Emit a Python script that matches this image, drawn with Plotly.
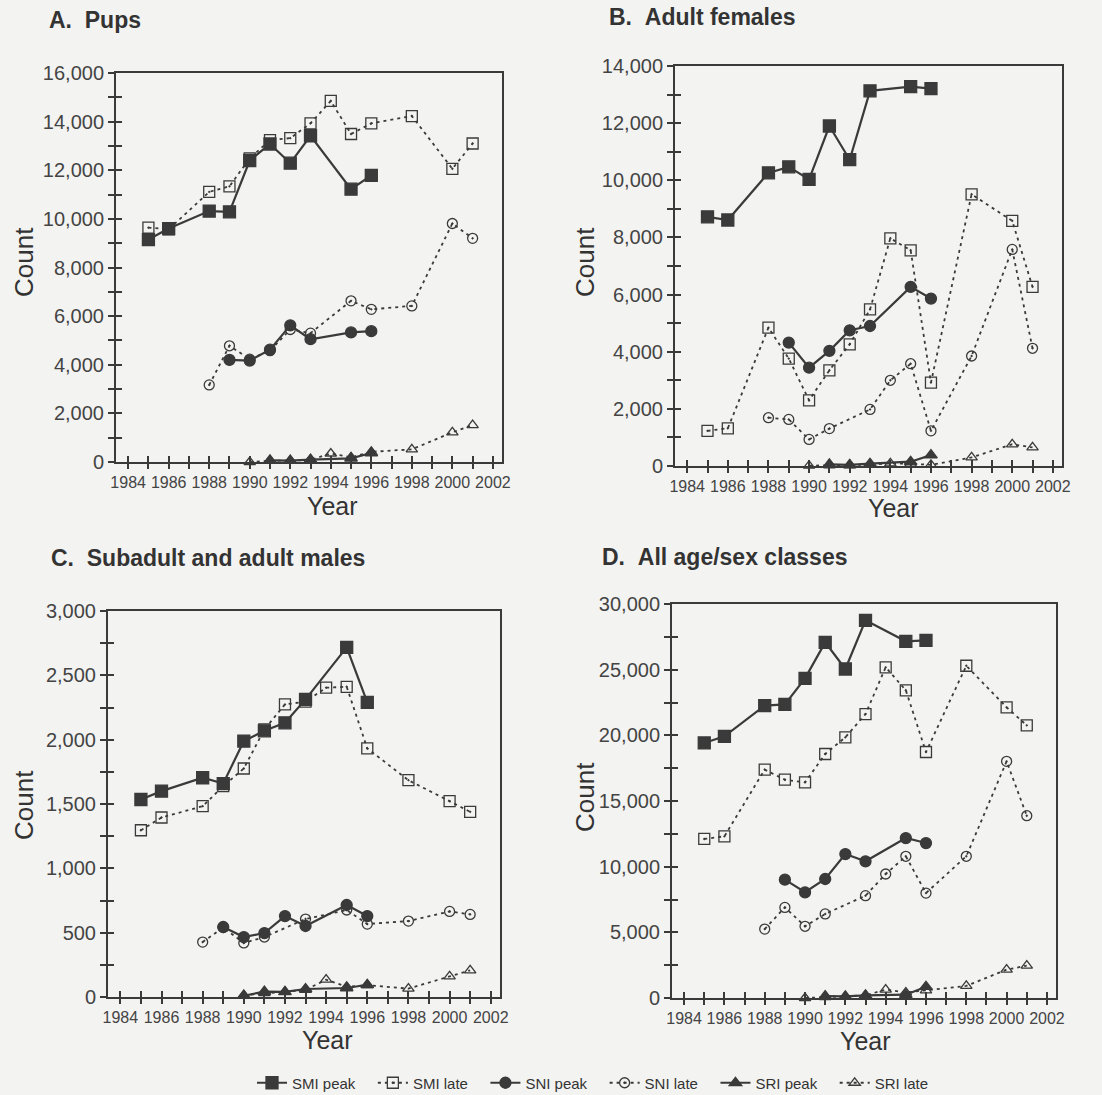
import plotly.graph_objects as go

# ---------------- data ----------------
YEARS_SMI_PEAK = [1985, 1986, 1988, 1989, 1990, 1991, 1992, 1993, 1995, 1996]
YEARS_SMI_LATE = [1985, 1986, 1988, 1989, 1990, 1991, 1992, 1993, 1994, 1995, 1996, 1998, 2000, 2001]
YEARS_SNI_PEAK = [1989, 1990, 1991, 1992, 1993, 1995, 1996]

# A. Pups
A_SMI_PEAK = [9150, 9600, 10320, 10290, 12400, 13080, 12290, 13420, 11220, 11790]
A_SMI_LATE = [9640, 9570, 11110, 11340, 12490, 13240, 13320, 13930, 14850, 13490, 13930, 14230, 12060, 13100]
A_SNI_PEAK = [4200, 4170, 4620, 5620, 5050, 5330, 5380]
A_SNI_LATE_YEARS = [1988, 1989, 1990, 1991, 1992, 1993, 1995, 1996, 1998, 2000, 2001]
A_SNI_LATE = [3170, 4780, 4230, 4580, 5450, 5300, 6630, 6280, 6420, 9810, 9200]
A_SRI_PEAK_YEARS = [1991, 1992, 1993, 1995, 1996]
A_SRI_PEAK = [70, 60, 100, 150, 370]
A_SRI_LATE_YEARS = [1990, 1991, 1992, 1993, 1994, 1995, 1996, 1998, 2000, 2001]
A_SRI_LATE = [0, 50, 60, 90, 350, 190, 420, 520, 1220, 1520]

# B. Adult females
B_SMI_PEAK = [8720, 8610, 10260, 10470, 10030, 11900, 10720, 13130, 13280, 13210]
B_SMI_LATE = [1230, 1320, 4840, 3760, 2300, 3350, 4260, 5480, 7970, 7550, 2920, 9510, 8580, 6270]
B_SNI_PEAK = [4320, 3440, 4030, 4750, 4900, 6270, 5860]
B_SNI_LATE_YEARS = [1988, 1989, 1990, 1991, 1993, 1994, 1995, 1996, 1998, 2000, 2001]
B_SNI_LATE = [1690, 1630, 930, 1310, 1980, 3000, 3580, 1230, 3850, 7580, 4120]
B_SRI_PEAK_YEARS = [1991, 1992, 1993, 1995, 1996]
B_SRI_PEAK = [60, 40, 80, 150, 380]
B_SRI_LATE_YEARS = [1990, 1991, 1992, 1993, 1994, 1995, 1996, 1998, 2000, 2001]
B_SRI_LATE = [10, 20, 20, 50, 90, 80, 40, 300, 760, 650]

# C. Subadult and adult males
C_SMI_PEAK = [1535, 1600, 1704, 1659, 1989, 2069, 2131, 2313, 2717, 2290]
C_SMI_LATE = [1296, 1395, 1483, 1639, 1776, 2080, 2274, 2295, 2404, 2411, 1932, 1685, 1522, 1439]
C_SNI_PEAK = [544, 466, 497, 629, 552, 715, 629]
C_SNI_LATE_YEARS = [1988, 1989, 1990, 1991, 1993, 1995, 1996, 1998, 2000, 2001]
C_SNI_LATE = [427, 540, 420, 466, 606, 676, 567, 590, 665, 642]
C_SRI_PEAK_YEARS = [1990, 1991, 1992, 1993, 1995, 1996]
C_SRI_PEAK = [10, 42, 40, 62, 70, 95]
C_SRI_LATE_YEARS = [1990, 1991, 1992, 1993, 1994, 1995, 1996, 1998, 2000, 2001]
C_SRI_LATE = [15, 30, 40, 55, 135, 80, 92, 65, 160, 207]

# D. All age/sex classes
D_SMI_PEAK = [19420, 19920, 22260, 22360, 24340, 27080, 25050, 28760, 27160, 27230]
D_SMI_LATE = [12110, 12310, 17390, 16620, 16420, 18580, 19850, 21620, 25180, 23430, 18730, 25300, 22130, 20760]
D_SNI_PEAK = [9010, 8050, 9060, 10960, 10410, 12180, 11800]
D_SNI_LATE_YEARS = [1988, 1989, 1990, 1991, 1993, 1994, 1995, 1996, 1998, 2000, 2001]
D_SNI_LATE = [5250, 6900, 5460, 6400, 7790, 9440, 10790, 7990, 10790, 18020, 13880]
D_SRI_PEAK_YEARS = [1991, 1992, 1993, 1995, 1996]
D_SRI_PEAK = [150, 120, 200, 250, 860]
D_SRI_LATE_YEARS = [1990, 1991, 1992, 1993, 1994, 1995, 1996, 1998, 2000, 2001]
D_SRI_LATE = [0, 60, 100, 200, 640, 420, 580, 920, 2160, 2460]

PANEL_TITLES = ["A.\u00a0\u00a0Pups", "B.\u00a0\u00a0Adult females",
                "C.\u00a0\u00a0Subadult and adult males", "D.\u00a0\u00a0All age/sex classes"]
Y_MAX = [16000, 14000, 3000, 30000]
Y_MINOR = [1000, 1000, 250, 2500]
Y_MAJOR = [2000, 2000, 500, 5000]
X_TICK_YEARS = list(range(1984, 2003))
X_LABEL_YEARS = list(range(1984, 2003, 2))
SERIES_NAMES = ["SMI peak", "SMI late", "SNI peak", "SNI late", "SRI peak", "SRI late"]

# ---------------- style ----------------
W, H = 1102, 1095
INK = "#3a3a3a"
BG = "#f3f3f2"
FONT = "Liberation Sans, Arial, sans-serif"

# plot boxes in pixels: left, right, top, bottom
BOXES = [(116, 502, 73, 462), (675, 1062, 66, 466), (108, 500, 611, 997), (672, 1056, 604, 998)]
TITLE_POS = [(47, 20), (607, 17), (49, 558), (600, 557)]
COUNT_POS = [(24, 262), (585, 262), (24, 805), (585, 797)]
YEAR_POS = [(332, 506), (893, 508), (327, 1040), (865, 1041)]
X_RANGE = [1983.4, 2002.45]

STYLES = [
    dict(symbol="square", size=12, dash="solid", width=2.2),
    dict(symbol="square-open-dot", size=11, dash="3px,4px", width=1.8),
    dict(symbol="circle", size=11, dash="solid", width=2.2),
    dict(symbol="circle-open-dot", size=10, dash="3px,4px", width=1.8),
    dict(symbol="triangle-up", size=11, dash="solid", width=2.2),
    dict(symbol="triangle-up-open", size=10, dash="3px,4px", width=1.8),
]

panels = [
    [(YEARS_SMI_PEAK, A_SMI_PEAK), (YEARS_SMI_LATE, A_SMI_LATE), (YEARS_SNI_PEAK, A_SNI_PEAK),
     (A_SNI_LATE_YEARS, A_SNI_LATE), (A_SRI_PEAK_YEARS, A_SRI_PEAK), (A_SRI_LATE_YEARS, A_SRI_LATE)],
    [(YEARS_SMI_PEAK, B_SMI_PEAK), (YEARS_SMI_LATE, B_SMI_LATE), (YEARS_SNI_PEAK, B_SNI_PEAK),
     (B_SNI_LATE_YEARS, B_SNI_LATE), (B_SRI_PEAK_YEARS, B_SRI_PEAK), (B_SRI_LATE_YEARS, B_SRI_LATE)],
    [(YEARS_SMI_PEAK, C_SMI_PEAK), (YEARS_SMI_LATE, C_SMI_LATE), (YEARS_SNI_PEAK, C_SNI_PEAK),
     (C_SNI_LATE_YEARS, C_SNI_LATE), (C_SRI_PEAK_YEARS, C_SRI_PEAK), (C_SRI_LATE_YEARS, C_SRI_LATE)],
    [(YEARS_SMI_PEAK, D_SMI_PEAK), (YEARS_SMI_LATE, D_SMI_LATE), (YEARS_SNI_PEAK, D_SNI_PEAK),
     (D_SNI_LATE_YEARS, D_SNI_LATE), (D_SRI_PEAK_YEARS, D_SRI_PEAK), (D_SRI_LATE_YEARS, D_SRI_LATE)],
]

fig = go.Figure()
layout = dict(
    template="none",
    width=W, height=H, autosize=False,
    margin=dict(l=0, r=0, t=0, b=0, pad=0, autoexpand=False),
    paper_bgcolor=BG, plot_bgcolor=BG,
    font=dict(family=FONT, color=INK),
    showlegend=True,
    legend=dict(orientation="h", x=599 / W, xanchor="center", y=1 - 1083 / H, yanchor="middle",
                font=dict(size=15, color="#333"), itemwidth=30, bgcolor="rgba(0,0,0,0)",
                traceorder="normal", itemclick=False, borderwidth=0),
)
annotations = []

for p, series in enumerate(panels):
    i = p + 1
    sx = "" if i == 1 else str(i)
    ox = str(i + 4)
    l, r, t, b = BOXES[p]
    xdom = [l / W, r / W]
    ydom = [1 - b / H, 1 - t / H]
    yticks = list(range(0, Y_MAX[p] + 1, Y_MINOR[p]))
    ytext = [f"{v:,}" if v % Y_MAJOR[p] == 0 else "" for v in yticks]
    xtext = [str(v) if v in X_LABEL_YEARS else "" for v in X_TICK_YEARS]

    layout["xaxis" + sx] = dict(domain=xdom, anchor="y" + sx, range=X_RANGE, tickmode="array",
                                tickvals=X_TICK_YEARS, ticktext=xtext, ticks="outside", ticklen=5,
                                tickwidth=1.5, tickcolor=INK, showline=True, linewidth=2, linecolor=INK,
                                mirror=True, showgrid=False, zeroline=False, automargin=False,
                                tickfont=dict(size=16, color="#444"))
    layout["yaxis" + sx] = dict(domain=ydom, anchor="x" + sx, range=[0, Y_MAX[p]], tickmode="array",
                                tickvals=yticks, ticktext=ytext, ticks="outside", ticklen=6,
                                tickwidth=1.5, tickcolor=INK, showline=True, linewidth=2, linecolor=INK,
                                mirror=True, showgrid=False, zeroline=False, automargin=False,
                                tickfont=dict(size=20, color="#444"))
    # overlay axes so that ticks cross the axis lines
    layout["xaxis" + ox] = dict(overlaying="x" + sx, anchor="y" + ox, range=X_RANGE, tickmode="array",
                                tickvals=X_TICK_YEARS, ticks="inside", ticklen=6, tickwidth=1.5,
                                tickcolor=INK, showticklabels=False, showline=False, showgrid=False,
                                zeroline=False, automargin=False)
    layout["yaxis" + ox] = dict(overlaying="y" + sx, anchor="x" + ox, range=[0, Y_MAX[p]], tickmode="array",
                                tickvals=yticks, ticks="inside", ticklen=6, tickwidth=1.5,
                                tickcolor=INK, showticklabels=False, showline=False, showgrid=False,
                                zeroline=False, automargin=False)
    fig.add_trace(go.Scatter(x=[None], y=[None], xaxis="x" + ox, yaxis="y" + ox,
                             showlegend=False, hoverinfo="skip"))

    for k, (xs, ys) in enumerate(series):
        st = STYLES[k]
        fig.add_trace(go.Scatter(
            x=xs, y=ys, mode="lines+markers", name=SERIES_NAMES[k] + "\u00a0\u00a0\u00a0",
            xaxis="x" + sx, yaxis="y" + sx, showlegend=(p == 0), cliponaxis=False,
            line=dict(color=INK, width=st["width"], dash=st["dash"]),
            marker=dict(symbol=st["symbol"], size=st["size"], color=INK,
                        line=dict(color=INK, width=1.3)),
        ))

    tx, ty = TITLE_POS[p]
    annotations.append(dict(text=f"<b>{PANEL_TITLES[p]}</b>", x=tx / W, y=1 - ty / H, xref="paper",
                            yref="paper", xanchor="left", yanchor="middle", showarrow=False,
                            font=dict(size=23, color="#333", family=FONT)))
    cx, cy = COUNT_POS[p]
    annotations.append(dict(text="Count", x=cx / W, y=1 - cy / H, xref="paper", yref="paper",
                            xanchor="center", yanchor="middle", textangle=-90, showarrow=False,
                            font=dict(size=26, color="#333", family=FONT)))
    yx, yy = YEAR_POS[p]
    annotations.append(dict(text="Year", x=yx / W, y=1 - yy / H, xref="paper", yref="paper",
                            xanchor="center", yanchor="middle", showarrow=False,
                            font=dict(size=25, color="#333", family=FONT)))

layout["annotations"] = annotations
fig.update_layout(**layout)

POST = ("document.documentElement.style.margin='0';document.body.style.margin='0';"
        "document.body.style.background='" + BG + "';document.documentElement.style.overflow='hidden';")
fig.write_html("out.html", post_script=POST, config={"displayModeBar": False})
